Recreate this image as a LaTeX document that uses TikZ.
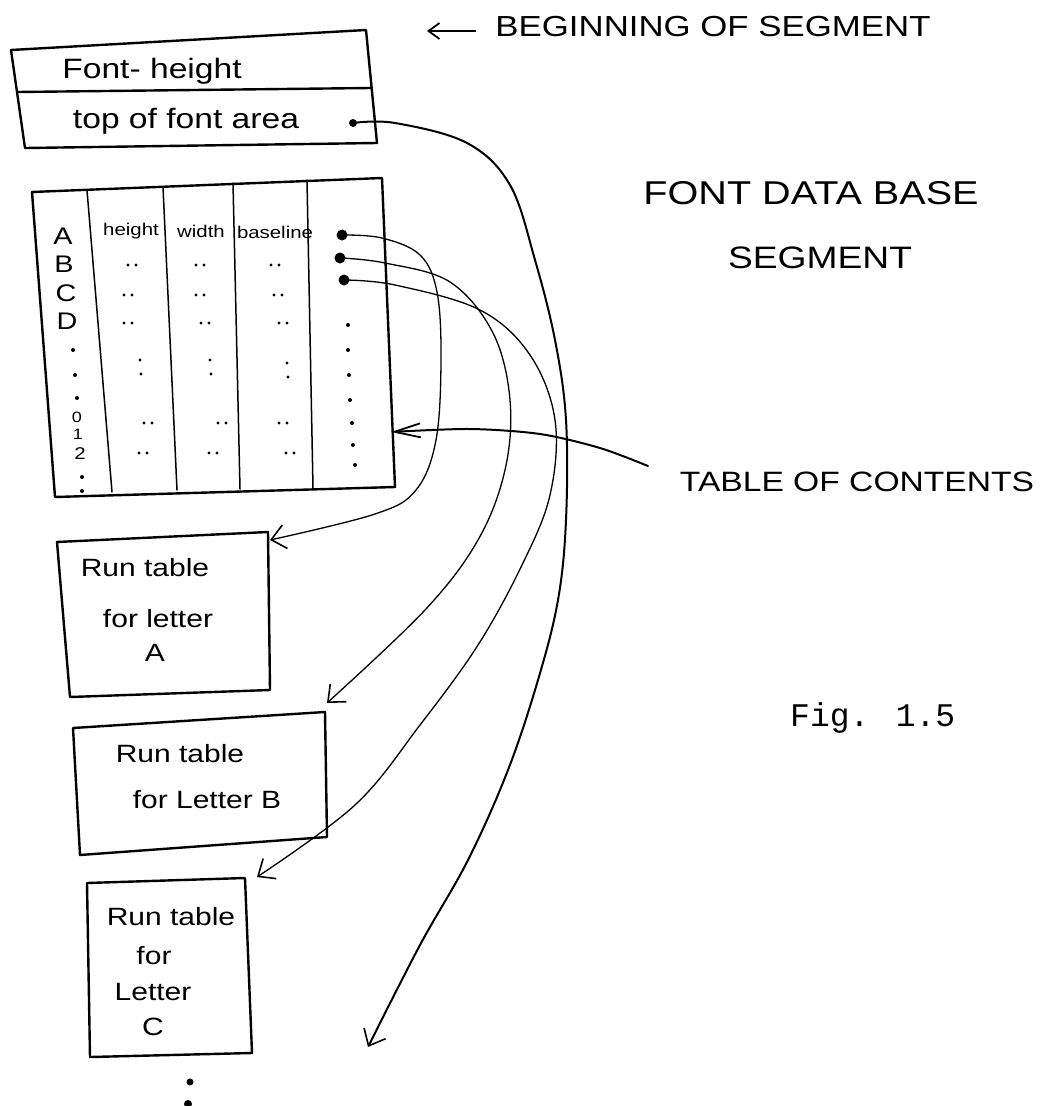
\documentclass[tikz,border=0pt]{standalone}
\usepackage{fontspec}
\setmainfont{Liberation Sans}
\newfontfamily\hand[FakeStretch=1.2]{Liberation Sans}
\newfontfamily\typew{Liberation Mono}
\usetikzlibrary{arrows.meta}
\newcommand{\dittomark}[2]{\fill (#1-4,#2) circle[radius=1.7pt] (#1+4,#2) circle[radius=1.7pt];}
\newcommand{\colonmark}[2]{\fill (#1,#2-7) circle[radius=1.7pt] (#1+1,#2+7) circle[radius=1.7pt];}
\begin{document}
\begin{tikzpicture}[x=1pt,y=-1pt,
  boxline/.style={line width=2.4pt, line join=round, line cap=round},
  colline/.style={line width=1.5pt, line cap=round},
  link/.style={line width=1.3pt, line cap=round},
  biglink/.style={line width=2pt, line cap=round},
  barbtip/.style={-{Straight Barb[length=14pt,width=24pt,line width=1.6pt]}},
  longtip/.style={-{Straight Barb[length=26pt,width=14pt,line width=1.8pt]}},
  smalltip/.style={-{Straight Barb[length=11pt,width=16pt,line width=1.8pt]}},
  hw/.style={font=\hand\fontsize{#1}{#1}\selectfont, inner sep=0pt},
  ptr/.style={circle, fill, inner sep=0pt, minimum size=#1}
]
\path[use as bounding box] (0,0) rectangle (1042,1106);

% ---------- top header box ----------
\draw[boxline] (11,50) -- (366,30) -- (377,143) -- (25,148) -- cycle;
\draw[boxline] (17,92) -- (371,88);
\node[hw=28] (fh) at (152,71) {Font- height};
\node[hw=28] (tfa) at (186,121) {top of font area};
\node[ptr=8pt] (dot0) at (353,123) {};

% ---------- table of contents box ----------
\draw[boxline] (32,192) -- (382,178) -- (395,487) -- (55,497) -- cycle;
\draw[colline] (87,190) -- (112,492);
\draw[colline] (163,187) -- (177,490);
\draw[colline] (233,183) -- (240,489);
\draw[colline] (307,180) -- (313,488);

\node[hw=17] (hh) at (131,231) {height};
\node[hw=17] (hw) at (201,231) {width};
\node[hw=17] (hb) at (275,232) {baseline};

\node[hw=24] (lA) at (63,236) {A};
\node[hw=24] (lB) at (64,264) {B};
\node[hw=24] (lC) at (66,293) {C};
\node[hw=24] (lD) at (67,321) {D};
\fill (73,350) circle[radius=2pt] (75,375) circle[radius=2pt] (77,398) circle[radius=2pt];
\node[hw=15] (l0) at (77,417) {0};
\node[hw=15] (l1) at (78,434) {1};
\node[hw=17] (l2) at (80,454) {2};
\fill (82,477) circle[radius=2pt] (82,491) circle[radius=2pt];

\dittomark{132}{265}\dittomark{200}{265}\dittomark{275}{265}
\dittomark{128}{295}\dittomark{200}{295}\dittomark{278}{295}
\dittomark{128}{323}\dittomark{205}{323}\dittomark{283}{323}
\colonmark{140}{367}\colonmark{210}{367}\colonmark{287}{370}
\dittomark{148}{423}\dittomark{222}{423}\dittomark{283}{423}
\dittomark{143}{453}\dittomark{213}{453}\dittomark{290}{453}
\foreach \p in {(348,325),(348,350),(349,375),(350,400),(352,423),(353,445),(355,465)}
  \fill \p circle[radius=2pt];

\node[ptr=11pt] (dot1) at (342,235) {};
\node[ptr=11pt] (dot2) at (340,258) {};
\node[ptr=11pt] (dot3) at (344,280) {};

% ---------- run tables ----------
\draw[boxline] (57,542) -- (268,532) -- (270,690) -- (70,697) -- cycle;
\node[hw=25] (ra1) at (145,568) {Run table};
\node[hw=25] (ra2) at (158,619) {for letter};
\node[hw=25] (ra3) at (155,653) {A};

\draw[boxline] (73,728) -- (325,712) -- (327,837) -- (80,855) -- cycle;
\node[hw=25] (rb1) at (180,754) {Run table};
\node[hw=25] (rb2) at (207,800) {for Letter B};

\draw[boxline] (87,883) -- (245,878) -- (252,1053) -- (90,1057) -- cycle;
\node[hw=25] (rc1) at (171,917) {Run table};
\node[hw=25] (rc2) at (154,956) {for};
\node[hw=25] (rc3) at (153,992) {Letter};
\node[hw=25] (rc4) at (153,1027) {C};

\fill (190,1082) circle[radius=3.5pt];
\fill (188,1104) circle[radius=4pt];

% ---------- arrow end points ----------
\coordinate (tipA) at (270,540);
\coordinate (tipB) at (327,703);
\coordinate (tipC) at (257,877);
\coordinate (tipEnd) at (368,1047);
\coordinate (tocTip) at (391,432);

% ---------- labels on the right ----------
\node[hw=29] (beg) at (713,27) {BEGINNING OF SEGMENT};
\coordinate (begStart) at (476,31);
\coordinate (begTip) at (427,31);
\draw[line width=2pt, smalltip] (begStart) -- (begTip);

\node[hw=33] (fdb1) at (811,193) {FONT DATA BASE};
\node[hw=31] (fdb2) at (820,258) {SEGMENT};
\node[hw=28] (toc) at (857,482) {TABLE OF CONTENTS};
\coordinate (tocStart) at (648,466);
\node[font=\typew\fontsize{33}{33}\selectfont, inner sep=0pt, anchor=base west] (fig) at (790,726) {Fig. 1.5};

% ---------- connectors ----------
\draw[biglink, barbtip] plot[smooth, tension=0.6] coordinates {
  (dot0) (395,123) (467,143) (510,185) (535,260) (555,340) (566,420)
  (566,520) (558,600) (538,680) (508,770) (468,860) (420,945) (tipEnd)};

\draw[link, barbtip] plot[smooth, tension=0.6] coordinates {
  (dot1) (382,238) (420,255) (437,292) (441,360) (436,440) (416,490)
  (375,514) (tipA)};

\draw[link, barbtip] plot[smooth, tension=0.6] coordinates {
  (dot2) (385,263) (450,282) (493,333) (510,400) (505,470) (478,540)
  (425,610) (tipB)};

\draw[link, barbtip] plot[smooth, tension=0.6] coordinates {
  (dot3) (395,285) (480,310) (530,355) (555,420) (550,495) (522,565)
  (478,645) (420,725) (355,805) (tipC)};

\draw[biglink, longtip] plot[smooth, tension=0.5] coordinates {
  (tocStart) (600,448) (540,434) (470,429) (tocTip)};
\end{tikzpicture}
\end{document}
